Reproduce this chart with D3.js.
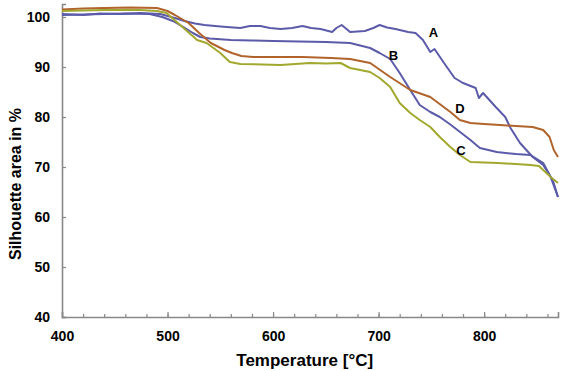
<!DOCTYPE html>
<html>
<head>
<meta charset="utf-8">
<script src="https://cdn.jsdelivr.net/npm/d3@7"></script>
<style>
  body { margin: 0; background: #fff; }
  text { font-family: "Liberation Sans", Arial, sans-serif; font-weight: bold; }
</style>
</head>
<body>
<div id="my_dataviz"></div>
<script>
// values: [temperature, silhouette area %]
var seriesA = [[400,100.6],[420,100.4],[436,100.7],[455,100.6],[474,100.8],[493,100.6],[507,99.8],[516,99.2],[526,98.7],[535,98.4],[545,98.2],[556,98.0],[569,97.8],[578,98.2],[588,98.2],[597,97.8],[607,97.6],[618,97.8],[628,98.2],[636,97.8],[645,97.6],[656,97.0],[660,97.8],[665,98.4],[673,97.0],[687,97.2],[695,97.8],[701,98.4],[708,97.9],[716,97.6],[720,97.4],[728,97.0],[735,96.8],[742,95.4],[749,93.0],[753,93.6],[762,90.8],[772,87.8],[780,86.8],[792,85.8],[795,83.8],[799,84.8],[811,82.0],[820,80.0],[825,77.8],[834,74.8],[846,72.0],[856,70.4],[865,67.4],[870,64.0]];
var seriesB = [[400,100.4],[420,100.5],[440,100.6],[460,100.7],[483,100.6],[495,100.0],[505,99.2],[515,98.0],[524,96.8],[531,96.0],[540,95.7],[560,95.4],[580,95.3],[600,95.2],[625,95.1],[650,95.0],[673,94.8],[692,93.8],[701,92.8],[711,91.6],[720,88.8],[730,85.4],[739,82.4],[749,81.0],[758,80.0],[768,78.5],[787,75.4],[796,73.8],[812,73.0],[830,72.6],[844,72.4],[856,70.8],[863,68.0],[870,64.0]];
var seriesC = [[400,101.2],[420,101.3],[440,101.4],[474,101.4],[490,101.2],[499,100.8],[512,98.4],[528,95.4],[537,94.8],[550,92.8],[559,91.0],[569,90.6],[590,90.5],[607,90.4],[635,90.8],[650,90.7],[664,90.8],[673,89.8],[692,89.0],[701,87.8],[711,86.0],[720,82.8],[730,80.8],[739,79.4],[749,78.0],[758,76.0],[768,74.0],[777,72.4],[787,71.0],[813,70.8],[844,70.4],[852,70.2],[863,68.0],[870,66.8]];
var seriesD = [[400,101.5],[420,101.7],[440,101.8],[465,101.9],[490,101.8],[500,101.2],[507,100.4],[520,98.8],[530,96.8],[541,94.8],[554,93.4],[561,92.8],[570,92.2],[581,92.0],[606,92.0],[628,92.0],[655,91.8],[673,91.6],[692,90.8],[711,88.0],[730,85.4],[749,84.0],[768,81.0],[777,79.4],[787,78.8],[800,78.6],[815,78.4],[830,78.2],[846,78.0],[856,77.4],[862,76.0],[866,73.4],[870,72.0]];

var curveNames = ["A", "B", "C", "D"];
var labelSpots = [[752,96.6],[714,92.0],[778,73.0],[777,81.4]];
var xTicks = [400, 500, 600, 700, 800];
var yTicks = [40, 50, 60, 70, 80, 90, 100];

var width = 561, height = 371, svg;
var margin = {top: 4, right: 3, bottom: 54, left: 62};
var colors = ["#5b5ba9", "#5b5ba9", "#a2a82e", "#b0642b"];

document.addEventListener('DOMContentLoaded', function () {
  svg = d3.select("#my_dataviz")
    .append("svg")
    .attr("width", width)
    .attr("height", height);
  drawChart();
});

function drawChart() {
  var x = d3.scaleLinear()
    .domain([400, 870])
    .range([margin.left, width - margin.right]);
  var y = d3.scaleLinear()
    .domain([40, 102.6])
    .range([height - margin.bottom, margin.top]);

  // minor x ticks every 20
  var xMinor = svg.append("g")
    .attr("transform", "translate(0," + y(40) + ")")
    .call(d3.axisBottom(x).tickValues(d3.range(420, 870, 20)).tickSize(-3).tickFormat(""));
  xMinor.select(".domain").remove();
  xMinor.selectAll("line").attr("stroke", "#888").attr("stroke-width", 1.2);

  var xAxis = svg.append("g")
    .attr("transform", "translate(0," + y(40) + ")")
    .call(d3.axisBottom(x).tickValues(xTicks).tickSize(-5).tickPadding(14));
  xAxis.select(".domain").attr("stroke", "#888").attr("stroke-width", 1.6);
  xAxis.selectAll("line").attr("stroke", "#888").attr("stroke-width", 1.2);
  xAxis.selectAll("text").style("font-size", "14px").attr("fill", "#000");

  var yAxis = svg.append("g")
    .attr("transform", "translate(" + x(400) + ",0)")
    .call(d3.axisLeft(y).tickValues(yTicks).tickSize(-4).tickPadding(12));
  yAxis.select(".domain").attr("stroke", "#888").attr("stroke-width", 1.6);
  yAxis.selectAll("line").attr("stroke", "#888").attr("stroke-width", 1.2);
  yAxis.selectAll("text").style("font-size", "14px").attr("fill", "#000");

  var line = d3.line()
    .x(function(d) { return x(d[0]); })
    .y(function(d) { return y(d[1]); });

  var allSeries = [seriesA, seriesB, seriesC, seriesD];
  // draw order: B, A, D, C so olive sits on top like the picture
  [1, 0, 3, 2].forEach(function(i) {
    svg.append("path")
      .datum(allSeries[i])
      .attr("d", line)
      .attr("fill", "none")
      .attr("stroke", colors[i])
      .attr("stroke-width", 2)
      .attr("stroke-linejoin", "round");
  });

  svg.selectAll(".curve-label")
    .data(curveNames)
    .enter()
    .append("text")
    .attr("class", "curve-label")
    .attr("x", function(d, i) { return x(labelSpots[i][0]); })
    .attr("y", function(d, i) { return y(labelSpots[i][1]); })
    .attr("text-anchor", "middle")
    .attr("dominant-baseline", "middle")
    .style("font-size", "13px")
    .text(function(d) { return d; });

  svg.append("text")
    .attr("x", x(630))
    .attr("y", 366)
    .attr("text-anchor", "middle")
    .style("font-size", "17px")
    .text("Temperature [°C]");

  svg.append("text")
    .attr("transform", "rotate(-90)")
    .attr("x", -y(66.6))
    .attr("y", 21)
    .attr("text-anchor", "middle")
    .style("font-size", "16px")
    .text("Silhouette area in %");
}
</script>
</body>
</html>
